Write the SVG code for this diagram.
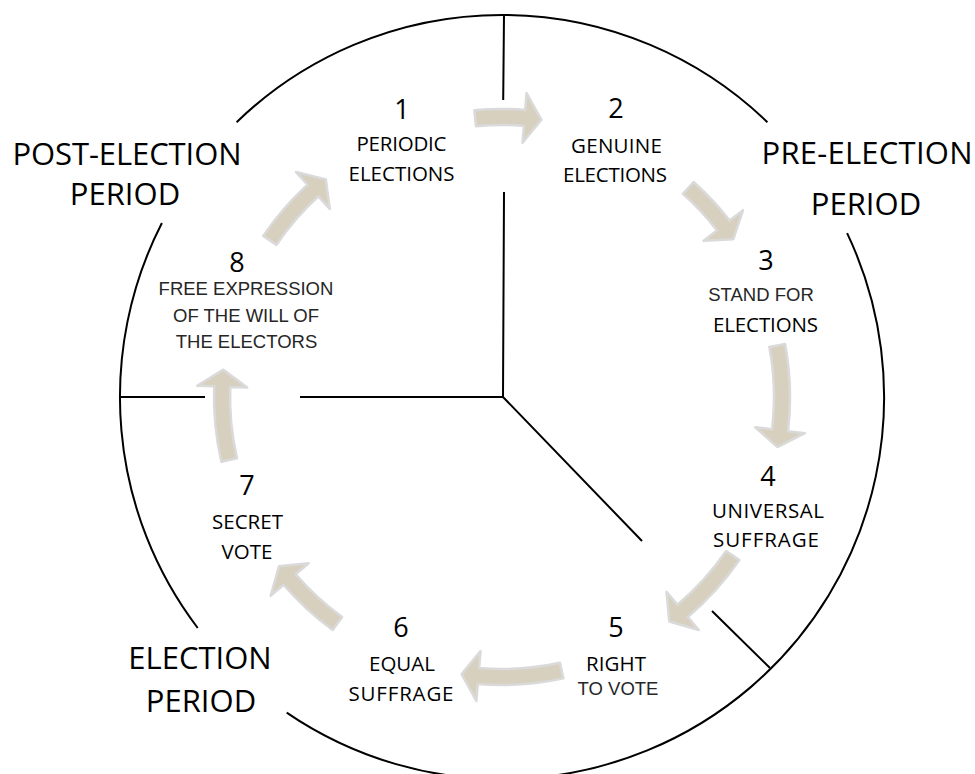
<svg xmlns="http://www.w3.org/2000/svg" width="975" height="774" viewBox="0 0 975 774">
<style>
.ring{fill:none;stroke:#000;stroke-width:2}
.div{fill:none;stroke:#000;stroke-width:2}
.arr{fill:#D7D0BE;stroke:#DADADA;stroke-width:2.5;stroke-linejoin:round}
.num{font-family:"Open Sans","Noto Sans",sans-serif;font-size:27px;fill:#000;text-anchor:middle}
.lab{font-family:"Open Sans","Noto Sans",sans-serif;font-size:20.5px;fill:#000;text-anchor:middle}
.lab2{font-family:"Liberation Sans",Arial,sans-serif;font-size:18.5px;fill:#262626;text-anchor:middle}
.big{font-family:"Open Sans","Noto Sans",sans-serif;font-size:31px;fill:#000;text-anchor:middle}
</style>
<rect width="975" height="774" fill="#fff"/>
<g id="frame">
<path class="ring" d="M236.6,122.2 A382,382 0 0 1 767.4,122.2"/>
<path class="ring" d="M847.1,233.1 A382,382 0 0 1 286.7,712.6"/>
<path class="ring" d="M197.7,628 A382,382 0 0 1 161.9,223"/>
<path class="div" d="M504,15 L503.2,100 M504,192 L503,397 M120,397 L205,397 M300,397 L503,397 M503,397 L642,541 M712,611 L770,668"/>
</g>
<g id="periods">
<text class="big" x="127" y="165" textLength="229">POST-ELECTION</text>
<text class="big" x="125" y="205">PERIOD</text>
<text class="big" x="867" y="164" textLength="211">PRE-ELECTION</text>
<text class="big" x="866" y="215">PERIOD</text>
<text class="big" x="200" y="669">ELECTION</text>
<text class="big" x="201" y="712">PERIOD</text>
</g>
<g id="connectors">
<path class="arr" transform="translate(502 397) rotate(-95.5)" d="M288,0 A288,288 0 0 1 283.52,50.61 L300.25,53.59 L272.15,65.84 L251.03,44.81 L267.77,47.8 A272,272 0 0 0 272,0 Z"/>
<path class="arr" transform="translate(502 397) rotate(-48.3)" d="M288,0 A288,288 0 0 1 283.16,52.59 L299.87,55.7 L271.68,67.74 L250.71,46.57 L267.43,49.67 A272,272 0 0 0 272,0 Z"/>
<path class="arr" transform="translate(502 397) rotate(-10.6)" d="M288,0 A288,288 0 0 1 274.8,86.23 L291.02,91.32 L261.58,99.89 L243.31,76.35 L259.53,81.44 A272,272 0 0 0 272,0 Z"/>
<path class="arr" transform="translate(502 397) rotate(34.5)" d="M288,0 A288,288 0 0 1 277.77,76.1 L294.17,80.59 L265.06,90.24 L245.94,67.38 L262.34,71.87 A272,272 0 0 0 272,0 Z"/>
<path class="arr" transform="translate(502 397) rotate(77.7)" d="M288,0 A288,288 0 0 1 275.24,84.78 L291.48,89.79 L262.1,98.52 L243.7,75.07 L259.94,80.07 A272,272 0 0 0 272,0 Z"/>
<path class="arr" transform="translate(502 397) rotate(126)" d="M288,0 A288,288 0 0 1 280.26,66.36 L296.8,70.28 L268.05,80.93 L248.14,58.75 L264.69,62.67 A272,272 0 0 0 272,0 Z"/>
<path class="arr" transform="translate(502 397) rotate(167)" d="M288,0 A288,288 0 0 1 278.03,75.13 L294.44,79.56 L265.38,89.31 L246.17,66.52 L262.58,70.95 A272,272 0 0 0 272,0 Z"/>
<path class="arr" transform="translate(502 397) rotate(-146)" d="M288,0 A288,288 0 0 1 280.03,67.34 L296.56,71.31 L267.76,81.86 L247.94,59.62 L264.47,63.6 A272,272 0 0 0 272,0 Z"/>
</g>
<g id="node1">
<text class="num" x="402" y="119">1</text>
<text class="lab" x="401.5" y="151" textLength="90">PERIODIC</text>
<text class="lab" x="401.5" y="181" textLength="106">ELECTIONS</text>
</g>
<g id="node2">
<text class="num" x="616" y="118">2</text>
<text class="lab" x="616.5" y="153" textLength="91">GENUINE</text>
<text class="lab" x="615" y="182" textLength="104">ELECTIONS</text>
</g>
<g id="node3">
<text class="num" x="766" y="270">3</text>
<text class="lab2" x="761" y="301">STAND FOR</text>
<text class="lab" x="765.5" y="332" textLength="105">ELECTIONS</text>
</g>
<g id="node4">
<text class="num" x="768" y="486">4</text>
<text class="lab" x="768" y="518" textLength="112">UNIVERSAL</text>
<text class="lab" x="766" y="547" textLength="106">SUFFRAGE</text>
</g>
<g id="node5">
<text class="num" x="616" y="637">5</text>
<text class="lab" x="616" y="671" textLength="60">RIGHT</text>
<text class="lab2" x="618" y="695">TO VOTE</text>
</g>
<g id="node6">
<text class="num" x="401" y="637">6</text>
<text class="lab" x="402" y="671" textLength="66">EQUAL</text>
<text class="lab" x="401" y="701" textLength="105">SUFFRAGE</text>
</g>
<g id="node7">
<text class="num" x="247" y="495">7</text>
<text class="lab" x="247.5" y="529" textLength="71">SECRET</text>
<text class="lab" x="247" y="559" textLength="51">VOTE</text>
</g>
<g id="node8">
<text class="num" x="237" y="272">8</text>
<text class="lab2" x="246" y="295">FREE EXPRESSION</text>
<text class="lab2" x="246" y="322">OF THE WILL OF</text>
<text class="lab2" x="246.5" y="348">THE ELECTORS</text>
</g>
</svg>
